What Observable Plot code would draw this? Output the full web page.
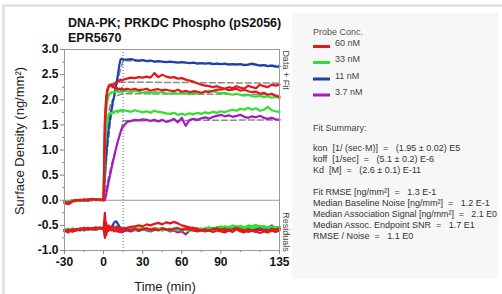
<!DOCTYPE html>
<html><head><meta charset="utf-8">
<script src="https://cdn.jsdelivr.net/npm/d3@7"></script>
<script src="https://cdn.jsdelivr.net/npm/@observablehq/plot@0.6"></script>
<style>
body{margin:0;background:#fff;}
#chart{position:relative;width:502px;height:294px;overflow:hidden;}
#chart svg{position:absolute;left:0;top:0;}
</style>
</head><body><div id="chart"></div>
<script>
// ---- time grid (min) ----
const time = [-30,-27,-24,-21,-18,-15,-12,-9,-6,-3,0,
  1,2,3,4,5,6,7,8,9,10,11,12,13,14,15,
  18,21,24,27,30,33,36,39,42,45,48,51,54,57,60,63,66,69,72,75,78,81,84,87,90,93,96,99,102,105,108,111,114,117,120,123,126,129,132,135];

// ---- sensorgram data (ng/mm²) ----
const red60a = [-0.06,-0.08,-0.03,-0.01,0.01,0.00,0.02,0.01,0.02,0.01,0.00,
  1.60,2.05,2.20,2.26,2.28,2.30,2.28,2.30,2.32,2.35,2.36,2.38,2.40,2.38,2.40,
  2.42,2.44,2.43,2.45,2.44,2.46,2.44,2.53,2.45,2.50,2.46,2.44,2.45,2.42,2.43,2.40,2.38,2.36,2.33,2.30,
  2.28,2.27,2.25,2.27,2.24,2.22,2.25,2.23,2.27,2.24,2.22,2.28,2.25,2.23,2.30,2.27,2.25,2.30,2.28,2.30];
const red60b = [-0.04,-0.05,-0.02,0.01,-0.01,0.02,0.00,0.03,0.01,0.02,0.02,
  1.50,2.00,2.20,2.28,2.30,2.28,2.25,2.25,2.22,2.24,2.20,2.22,2.20,2.23,2.20,
  2.22,2.20,2.22,2.19,2.20,2.22,2.18,2.20,2.21,2.19,2.20,2.18,2.17,2.20,2.16,2.18,2.15,2.17,2.16,2.14,
  2.17,2.15,2.18,2.20,2.20,2.22,2.19,2.20,2.22,2.18,2.20,2.17,2.15,2.16,2.12,2.14,2.10,2.12,2.08,2.06];
const green33a = [-0.03,-0.04,0.00,-0.02,0.01,0.00,0.01,0.00,0.02,0.00,0.01,
  1.20,1.80,2.00,2.10,2.12,2.15,2.14,2.16,2.15,2.18,2.16,2.15,2.17,2.15,2.18,
  2.17,2.15,2.18,2.16,2.14,2.16,2.13,2.15,2.14,2.16,2.13,2.12,2.14,2.12,2.15,2.13,2.11,2.14,2.12,2.13,
  2.15,2.18,2.17,2.15,2.13,2.14,2.12,2.10,2.12,2.10,2.08,2.10,2.07,2.06,2.08,2.05,2.07,2.04,2.06,2.03];
const green33b = [-0.05,-0.02,-0.01,0.00,-0.02,0.01,0.00,0.01,0.00,0.01,0.00,
  1.00,1.45,1.62,1.70,1.74,1.72,1.76,1.74,1.77,1.78,1.75,1.78,1.80,1.77,1.79,
  1.78,1.76,1.79,1.77,1.75,1.77,1.74,1.78,1.76,1.75,1.73,1.72,1.74,1.70,1.72,1.70,1.73,1.71,1.74,1.72,
  1.75,1.73,1.76,1.74,1.77,1.75,1.78,1.80,1.78,1.82,1.80,1.84,1.80,1.83,1.78,1.80,1.86,1.79,1.77,1.76];
const blue11 = [-0.02,-0.05,-0.01,0.00,0.01,-0.01,0.00,0.02,0.00,0.01,0.00,
  0.50,0.90,1.20,1.45,1.65,1.80,1.95,2.05,2.20,2.35,2.50,2.68,2.80,2.82,2.80,
  2.80,2.81,2.79,2.78,2.79,2.77,2.78,2.76,2.77,2.76,2.75,2.76,2.75,2.74,2.75,2.74,2.73,2.74,2.72,2.73,
  2.72,2.73,2.71,2.72,2.71,2.72,2.70,2.71,2.70,2.71,2.69,2.70,2.72,2.70,2.68,2.69,2.67,2.68,2.66,2.66];
const purple37 = [-0.04,-0.03,0.00,-0.01,0.00,0.01,-0.01,0.00,0.01,0.00,0.00,
  0.00,0.12,0.25,0.38,0.50,0.62,0.75,0.85,0.97,1.08,1.18,1.27,1.35,1.42,1.46,
  1.56,1.58,1.60,1.59,1.61,1.60,1.58,1.60,1.57,1.60,1.56,1.58,1.62,1.55,1.64,1.48,1.60,1.62,1.60,1.63,
  1.65,1.62,1.66,1.68,1.70,1.67,1.69,1.66,1.68,1.70,1.66,1.64,1.67,1.65,1.68,1.64,1.62,1.64,1.61,1.60];

// ---- residuals (plotted with their offset) ----
const resRed60a = [-0.60,-0.64,-0.58,-0.60,-0.56,-0.58,-0.55,-0.57,-0.54,-0.56,-0.55,
  -0.25,-0.70,-0.55,-0.50,-0.56,-0.52,-0.55,-0.53,-0.56,-0.52,-0.55,-0.58,-0.54,-0.60,-0.56,
  -0.55,-0.53,-0.52,-0.50,-0.52,-0.48,-0.50,-0.47,-0.45,-0.48,-0.44,-0.46,-0.43,-0.46,-0.50,-0.52,-0.54,-0.55,-0.58,-0.60,
  -0.62,-0.60,-0.63,-0.60,-0.62,-0.64,-0.60,-0.63,-0.58,-0.62,-0.64,-0.58,-0.61,-0.63,-0.56,-0.60,-0.62,-0.57,-0.59,-0.56];
const resRed60b = [-0.62,-0.58,-0.63,-0.57,-0.60,-0.55,-0.58,-0.56,-0.58,-0.54,-0.57,
  -0.75,-0.45,-0.62,-0.60,-0.55,-0.60,-0.58,-0.62,-0.60,-0.58,-0.62,-0.60,-0.63,-0.58,-0.60,
  -0.58,-0.60,-0.57,-0.60,-0.58,-0.56,-0.59,-0.57,-0.60,-0.56,-0.58,-0.60,-0.57,-0.55,-0.59,-0.56,-0.58,-0.60,-0.62,-0.60,
  -0.58,-0.61,-0.57,-0.56,-0.59,-0.57,-0.60,-0.58,-0.55,-0.58,-0.60,-0.63,-0.60,-0.62,-0.65,-0.62,-0.64,-0.60,-0.63,-0.60];
const resGreen33a = [-0.58,-0.60,-0.56,-0.59,-0.57,-0.55,-0.58,-0.56,-0.57,-0.55,-0.56,
  -0.55,-0.60,-0.52,-0.56,-0.58,-0.55,-0.57,-0.60,-0.56,-0.58,-0.55,-0.57,-0.59,-0.55,-0.57,
  -0.56,-0.58,-0.55,-0.57,-0.59,-0.56,-0.58,-0.55,-0.57,-0.60,-0.57,-0.59,-0.56,-0.58,-0.60,-0.57,-0.60,-0.58,-0.60,-0.56,
  -0.58,-0.55,-0.57,-0.53,-0.55,-0.52,-0.54,-0.50,-0.53,-0.51,-0.54,-0.50,-0.52,-0.49,-0.53,-0.51,-0.55,-0.52,-0.54,-0.53];
const resGreen33b = [-0.60,-0.57,-0.61,-0.58,-0.60,-0.57,-0.59,-0.56,-0.58,-0.56,-0.58,
  -0.57,-0.55,-0.60,-0.58,-0.55,-0.59,-0.56,-0.58,-0.60,-0.57,-0.59,-0.56,-0.58,-0.60,-0.57,
  -0.58,-0.56,-0.59,-0.57,-0.55,-0.58,-0.60,-0.57,-0.59,-0.56,-0.58,-0.61,-0.58,-0.60,-0.57,-0.59,-0.61,-0.58,-0.56,-0.59,
  -0.56,-0.54,-0.57,-0.55,-0.52,-0.55,-0.53,-0.56,-0.52,-0.55,-0.57,-0.53,-0.56,-0.54,-0.51,-0.55,-0.53,-0.56,-0.54,-0.55];
const resBlue11 = [-0.59,-0.62,-0.58,-0.60,-0.57,-0.59,-0.56,-0.58,-0.57,-0.56,-0.57,
  -0.55,-0.58,-0.56,-0.60,-0.57,-0.55,-0.50,-0.45,-0.42,-0.43,-0.47,-0.52,-0.56,-0.58,-0.57,
  -0.58,-0.57,-0.59,-0.58,-0.56,-0.58,-0.57,-0.59,-0.58,-0.56,-0.58,-0.57,-0.59,-0.58,-0.57,-0.59,-0.58,-0.60,-0.58,-0.57,
  -0.59,-0.58,-0.56,-0.58,-0.57,-0.59,-0.58,-0.56,-0.57,-0.59,-0.58,-0.56,-0.58,-0.57,-0.59,-0.58,-0.56,-0.58,-0.57,-0.58];
const resPurple37 = [-0.60,-0.58,-0.62,-0.59,-0.57,-0.60,-0.58,-0.57,-0.59,-0.56,-0.58,
  -0.58,-0.56,-0.55,-0.57,-0.55,-0.58,-0.56,-0.60,-0.58,-0.62,-0.60,-0.63,-0.60,-0.64,-0.62,
  -0.60,-0.62,-0.59,-0.61,-0.58,-0.60,-0.62,-0.59,-0.57,-0.60,-0.58,-0.62,-0.60,-0.64,-0.62,-0.68,-0.60,-0.58,-0.56,-0.59,
  -0.57,-0.55,-0.58,-0.56,-0.54,-0.57,-0.55,-0.58,-0.56,-0.54,-0.57,-0.55,-0.52,-0.56,-0.54,-0.57,-0.55,-0.50,-0.56,-0.54];

// ---- global fit curves ----
const fitTime = [0,1,2,3,5,8,12,15,135];
const fit60 = [0,1.25,1.90,2.18,2.30,2.34,2.35,2.35,2.33];
const fit33 = [0,0.80,1.30,1.60,1.90,2.05,2.10,2.12,2.10];
const fit11 = [0,0.35,0.70,1.00,1.50,2.05,2.50,2.78,2.68];
const fit37 = [0,0.12,0.25,0.37,0.60,0.90,1.25,1.58,1.60];

// ---- legend / axis text ----
const concLabels = ["60 nM","33 nM","11 nM","3.7 nM"];
const concColors = ["#e3181e","#2fe02f","#1e3fae","#a41cc0"];
const xTicks = [-30,0,30,60,90,135];
const xMinor = [-15,15,45,75,105,120];
const yTicks = [-1,-0.5,0,0.5,1,1.5,2,2.5,3];
const yMinor = [-0.75,-0.25,0.25,0.75,1.25,1.75,2.25,2.75];
const assocEnd = [15];
const zeroLine = [0];
const summary = [
  "kon  [1/ (sec\u00b7M)]  =   (1.95 \u00b1 0.02) E5",
  "koff  [1/sec]  =   (5.1 \u00b1 0.2) E-6",
  "Kd  [M]  =   (2.6 \u00b1 0.1) E-11",
  "",
  "Fit RMSE [ng/mm\u00b2]  =   1.3 E-1",
  "Median Baseline Noise [ng/mm\u00b2]  =   1.2 E-1",
  "Median Association Signal [ng/mm\u00b2]  =   2.1 E0",
  "Median Assoc. Endpoint SNR  =   1.7 E1",
  "RMSE / Noise  =   1.1 E0"
];

const toRows = (vals, s) => time.map((t, i) => ({t, v: vals[i], s}));
const data = [
  ...toRows(purple37, "3.7 nM"), ...toRows(blue11, "11 nM"),
  ...toRows(green33b, "33 nM"), ...toRows(green33a, "33 nM b"),
  ...toRows(red60b, "60 nM"), ...toRows(red60a, "60 nM b")
];
const resid = [
  ...toRows(resPurple37, "3.7 nM"), ...toRows(resBlue11, "11 nM"),
  ...toRows(resGreen33b, "33 nM"), ...toRows(resGreen33a, "33 nM b"),
  ...toRows(resRed60b, "60 nM"), ...toRows(resRed60a, "60 nM b")
];
const fitRows = [fit60, fit33, fit11, fit37].flatMap((f, k) => fitTime.map((t, i) => ({t, v: f[i], s: "f" + k})));
const colorOf = {"60 nM": concColors[0], "60 nM b": concColors[0], "33 nM": concColors[1], "33 nM b": concColors[1], "11 nM": concColors[2], "3.7 nM": concColors[3]};

const font = "Liberation Sans, Arial, sans-serif";
const svg = Plot.plot({
  width: 502, height: 294,
  marginLeft: 64, marginRight: 223, marginTop: 49, marginBottom: 44,
  style: {background: "transparent", fontFamily: font, color: "#111"},
  x: {domain: [-30, 135]},
  y: {domain: [-1, 3]},
  marks: [
    Plot.ruleY(zeroLine, {stroke: "#999", strokeWidth: 1}),
    Plot.line(fitRows, {x: "t", y: "v", z: "s", stroke: "#8a8a8a", strokeWidth: 1.5, strokeDasharray: "6,3"}),
    Plot.line(data, {x: "t", y: "v", z: "s", stroke: d => colorOf[d.s], strokeWidth: 2.2}),
    Plot.line(resid, {x: "t", y: "v", z: "s", stroke: d => colorOf[d.s], strokeWidth: 2.2}),
    Plot.ruleX(assocEnd, {stroke: "#666", strokeWidth: 1, strokeDasharray: "1,2"}),
    Plot.frame({stroke: "#9a9a9a"}),
    Plot.axisX(xTicks, {tickSize: 4, tickPadding: 3, tickFormat: d => String(d), fontSize: 12, fontWeight: "bold", label: null, stroke: "#888"}),
    Plot.axisX(xMinor, {tickSize: 2, text: null, label: null, stroke: "#888"}),
    Plot.axisY(yTicks, {tickSize: 4, tickPadding: 2, tickFormat: d => d.toFixed(1), fontSize: 12, fontWeight: "bold", label: null, stroke: "#888"}),
    Plot.axisY(yMinor, {tickSize: 2, text: null, label: null, stroke: "#888"})
  ]
});

const root = d3.select("#chart");
// outer border and right info panel (behind the plot)
const bg = root.append("svg").attr("width", 502).attr("height", 294).style("font-family", font);
bg.append("path").attr("d", "M3.5,294 V5.5 H502").attr("fill", "none").attr("stroke", "#dedede").attr("stroke-width", 2.5);
bg.append("rect").attr("x", 292).attr("y", 13).attr("width", 206).attr("height", 265).attr("fill", "#f7f7f7");
root.node().appendChild(svg);

const s = d3.select(svg).append("g").attr("text-anchor", "start").attr("font-family", font);
// titles
s.append("text").attr("x", 68).attr("y", 27).attr("font-size", 12.5).attr("font-weight", "bold").attr("fill", "#111").text("DNA-PK; PRKDC Phospho (pS2056)");
s.append("text").attr("x", 68).attr("y", 41.5).attr("font-size", 12.5).attr("font-weight", "bold").attr("fill", "#111").text("EPR5670");
s.append("text").attr("transform", "translate(24,141) rotate(-90)").attr("text-anchor", "middle").attr("font-size", 13).attr("fill", "#222").text("Surface Density (ng/mm\u00b2)");
s.append("text").attr("x", 165).attr("y", 291).attr("text-anchor", "middle").attr("font-size", 13).attr("fill", "#222").text("Time (min)");
s.append("text").attr("transform", "translate(283,70) rotate(90)").attr("text-anchor", "middle").attr("font-size", 9).attr("fill", "#444").text("Data + Fit");
s.append("text").attr("transform", "translate(283,232) rotate(90)").attr("text-anchor", "middle").attr("font-size", 9).attr("fill", "#444").text("Residuals");

// legend
s.append("text").attr("x", 313).attr("y", 34.5).attr("font-size", 9).attr("fill", "#555").text("Probe Conc.");
const legY = [46.5, 62.5, 79, 95];
concLabels.forEach((lab, i) => {
  s.append("line").attr("x1", 313).attr("x2", 330).attr("y1", legY[i]).attr("y2", legY[i]).attr("stroke", concColors[i]).attr("stroke-width", 3);
  s.append("text").attr("x", 335).attr("y", legY[i] - 0.5).attr("font-size", 9).attr("fill", "#444").text(lab);
});
s.append("text").attr("x", 313).attr("y", 130.5).attr("font-size", 9).attr("fill", "#444").text("Fit Summary:");
const maxW = 184;
summary.forEach((line, i) => {
  const t = s.append("text").attr("x", 313).attr("y", 150.5 + i * 11.1).attr("font-size", 9).attr("fill", "#333").style("white-space", "pre").text(line);
  const w = t.node().getComputedTextLength();
  if (w > maxW) t.attr("textLength", maxW).attr("lengthAdjust", "spacingAndGlyphs");
});
</script>
</body></html>
